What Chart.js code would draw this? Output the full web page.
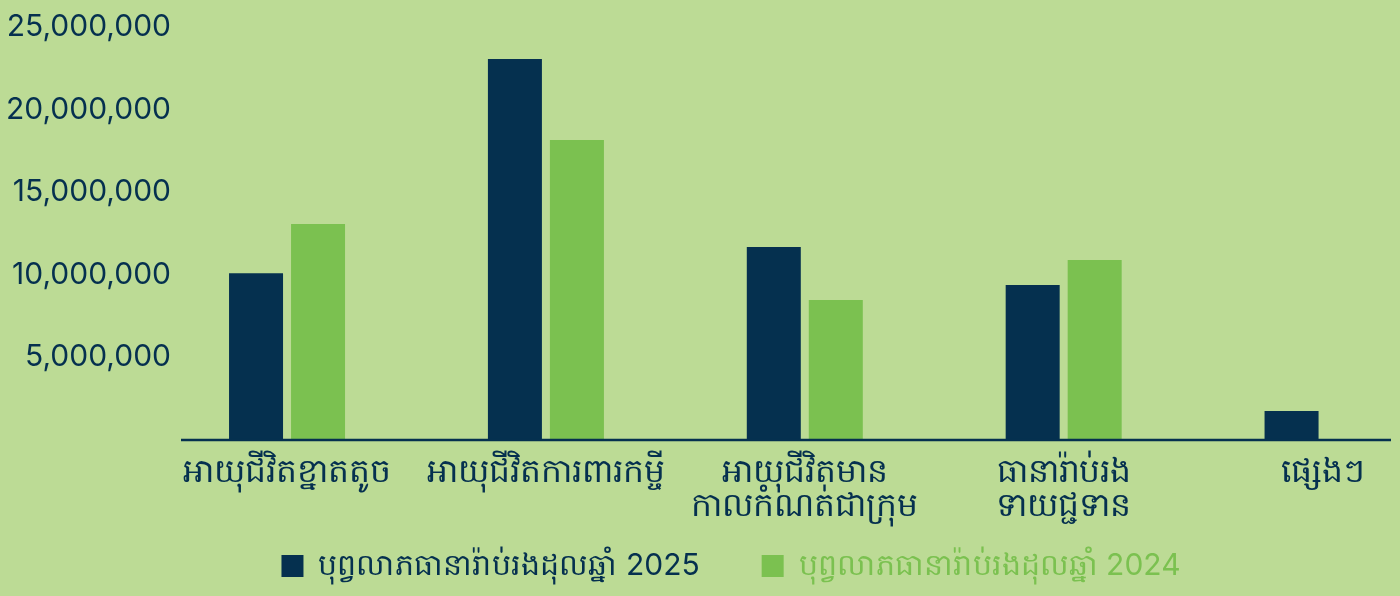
<!DOCTYPE html>
<html>
<head>
<meta charset="utf-8">
<script src="https://cdn.jsdelivr.net/npm/chart.js@4.4.1/dist/chart.umd.min.js"></script>
<style>
  html, body { margin: 0; padding: 0; background: #bcdb95; overflow: hidden; }
  .frame { width: 1400px; height: 596px; overflow: hidden; }
  .chart-box { width: 1452px; height: 596px; position: relative; }
</style>
</head>
<body>
<div class="frame">
  <div class="chart-box"><canvas id="premiumChart"></canvas></div>
</div>
<script>
const categories = [
  'អាយុជីវិតខ្នាតតូច',
  'អាយុជីវិតការពារកម្ចី',
  ['អាយុជីវិតមាន', 'កាលកំណត់ជាក្រុម'],
  ['ធានារ៉ាប់រង', 'ទាយជ្ជទាន'],
  'ផ្សេងៗ'
];
const premiums2025 = [10090000, 23060000, 11680000, 9380000, 1760000];
const premiums2024 = [13070000, 18160000, 8470000, 10900000, null];
const seriesLabels = ['បុព្វលាភធានារ៉ាប់រងដុលឆ្នាំ 2025', 'បុព្វលាភធានារ៉ាប់រងដុលឆ្នាំ 2024'];
const yTicks = [5000000, 10000000, 15000000, 20000000, 25000000];

const navy = '#05304f';
const green = '#7bc150';
const fontFamily = "Inter, Roboto, 'Noto Sans', sans-serif";

// axis line that starts a bit right of the tick labels and stops short of the edge
const baseLine = {
  id: 'baseLine',
  afterDatasetsDraw(chart) {
    const { ctx } = chart;
    const y = chart.scales.y.getPixelForValue(0);
    ctx.save();
    ctx.strokeStyle = navy;
    ctx.lineWidth = 2.5;
    ctx.beginPath();
    ctx.moveTo(181, y);
    ctx.lineTo(1391, y);
    ctx.stroke();
    ctx.restore();
  }
};

new Chart(document.getElementById('premiumChart'), {
  type: 'bar',
  data: {
    labels: categories,
    datasets: [
      { label: seriesLabels[0], data: premiums2025, backgroundColor: navy },
      { label: seriesLabels[1], data: premiums2024, backgroundColor: green }
    ]
  },
  options: {
    responsive: true,
    maintainAspectRatio: false,
    animation: false,
    categoryPercentage: 0.479,
    barPercentage: 0.871,
    layout: { padding: { top: 27, right: 0, bottom: 5, left: 10 } },
    plugins: {
      legend: {
        position: 'bottom',
        maxHeight: 110,
        labels: {
          boxWidth: 22,
          boxHeight: 22,
          padding: 62,
          font: { family: fontFamily, size: 30 },
          generateLabels(chart) {
            return chart.data.datasets.map((ds, i) => ({
              text: ds.label,
              fillStyle: ds.backgroundColor,
              strokeStyle: ds.backgroundColor,
              lineWidth: 0,
              fontColor: ds.backgroundColor,
              datasetIndex: i,
              hidden: !chart.isDatasetVisible(i)
            }));
          }
        }
      },
      tooltip: { enabled: false }
    },
    scales: {
      x: {
        afterFit(scale) { scale.height = 49; },
        grid: { display: false },
        border: { display: false },
        ticks: {
          // mirror keeps the two-line labels from being clipped to the short axis box
          mirror: true,
          color: navy,
          padding: -49,
          maxRotation: 0,
          autoSkip: false,
          font: { family: fontFamily, size: 33, lineHeight: 1.03 }
        }
      },
      y: {
        min: 0,
        max: 25000000,
        afterFit(scale) { scale.width = 147.6; },
        afterBuildTicks(scale) { scale.ticks = yTicks.map(v => ({ value: v })); },
        grid: { display: false },
        border: { display: false },
        ticks: {
          mirror: true,
          crossAlign: 'far',
          color: navy,
          padding: -151.6,
          font: { family: fontFamily, size: 30 },
          callback: v => v.toLocaleString('en-US')
        }
      }
    }
  },
  plugins: [baseLine]
});
</script>
</body>
</html>
